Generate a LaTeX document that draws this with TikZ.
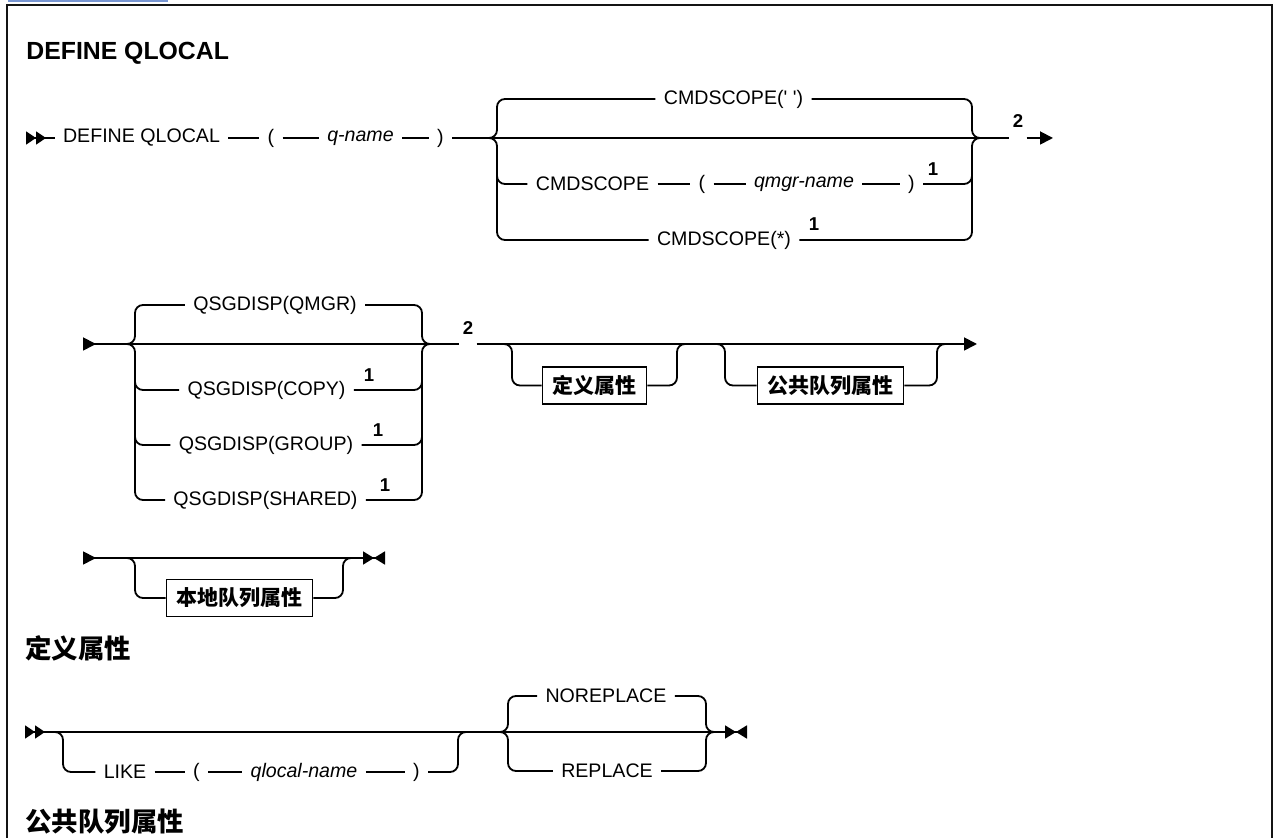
\documentclass[tikz,border=0pt]{standalone}
\usepackage{fontspec}
\setmainfont{Liberation Sans}
\newfontfamily\cjkfont{Noto Sans CJK SC}
\usepackage{tikz}
\usetikzlibrary{arrows.meta}
\usepackage{xcolor}
\definecolor{linkblue}{RGB}{120,150,210}
\definecolor{framegray}{RGB}{20,20,20}

\tikzset{
  rail/.style={line width=0.9pt,rounded corners=4pt},
  begin1/.style={{Triangle[reversed,length=6.5pt,width=6.5pt]}-},
  begin2/.style={{Triangle[reversed,length=5pt,width=6.5pt]Triangle[reversed,length=5pt,width=6.5pt]}-},
  cont/.style={-{Triangle[length=6.5pt,width=6.5pt]}},
  finish/.style={-{Triangle[length=5.5pt,width=6.5pt]Triangle[reversed,length=5.5pt,width=6.5pt]}},
  kw/.style={font=\fontsize{9.8}{11}\selectfont,inner xsep=4pt,inner ysep=2pt},
  var/.style={kw,font=\fontsize{9.8}{11}\selectfont\itshape},
  note/.style={font=\fontsize{9.3}{10}\selectfont\bfseries,inner sep=1.5pt},
  attr/.style={draw,line width=0.8pt,font=\cjkfont\bfseries\fontsize{10.5}{12}\selectfont,inner xsep=5pt,minimum height=18.5pt},
  heading/.style={anchor=west,inner sep=0pt,font=\cjkfont\bfseries\fontsize{13.2}{15}\selectfont},
  title/.style={font=\bfseries\fontsize{12.4}{14}\selectfont,inner sep=0pt},
}

\begin{document}
\begin{tikzpicture}[x=0.5pt,y=-0.5pt]
  \useasboundingbox (0,0) rectangle (1274,838);

  % --- frame ---
  \draw[linkblue,line width=1pt] (8,1.5) -- (168,1.5);
  \draw[framegray,line width=1.2pt] (7,850) |- (1272,5) -- (1272,850);

  % --- title ---
  \node[title,anchor=base west] (title) at (26,60) {DEFINE QLOCAL};

  % --- row 1: DEFINE QLOCAL (q-name) + CMDSCOPE ---
  \coordinate (s1) at (26,138);
  \coordinate (j1l) at (489,138);
  \coordinate (c1l) at (497,138);
  \coordinate (c1r) at (972,138);
  \coordinate (j1r) at (980,138);
  \coordinate (e1) at (1053,138);
  \node[kw] (defq) at (141.5,138) {DEFINE QLOCAL};
  \node[kw] (lp1) at (271,138) {(};
  \node[var] (qname) at (360.5,138) {q-name};
  \node[kw] (rp1) at (440.5,138) {)};
  \node[kw] (scopeblank) at (733.5,99) {CMDSCOPE(\textquotesingle\ \textquotesingle)};
  \node[kw] (scope) at (592.5,184) {CMDSCOPE};
  \node[kw] (lp2) at (702,184) {(};
  \node[var] (qmgr) at (804,184) {qmgr-name};
  \node[kw] (rp2) at (911.5,184) {)};
  \node[note] (n1a) at (933,169) {1};
  \node[kw] (scopeall) at (724,240) {CMDSCOPE(*)};
  \node[note] (n1b) at (814,224) {1};
  \node[note] (n2a) at (1018,121) {2};

  \draw[rail,begin2] (s1) -- (defq);
  \draw[rail] (defq) -- (lp1) (lp1) -- (qname) (qname) -- (rp1);
  \draw[rail] (rp1) -- (n2a.west |- j1r);
  \draw[rail,cont] (n2a.east |- j1r) -- (e1);
  \draw[rail] (j1l) -| (scopeblank.west -| c1l) -- (scopeblank);
  \draw[rail] (scopeblank) -| (c1r) -- (j1r);
  \draw[rail] (j1l) -| (scopeall.west -| c1l) -- (scopeall);
  \draw[rail] (scopeall) -| (c1r) -- (j1r);
  \draw[rail] ([yshift=-10pt]c1l) |- (scope);
  \draw[rail] (scope) -- (lp2) (lp2) -- (qmgr) (qmgr) -- (rp2);
  \draw[rail] (rp2) -| ([yshift=-10pt]c1r);

  % --- row 2: QSGDISP + attribute groups ---
  \coordinate (s2) at (83,344);
  \coordinate (j2l) at (127,344);
  \coordinate (c2l) at (135,344);
  \coordinate (c2r) at (422,344);
  \coordinate (j2r) at (430,344);
  \coordinate (f1a) at (502,344);
  \coordinate (c3l) at (512,344);
  \coordinate (c3r) at (677,344);
  \coordinate (f1b) at (685,344);
  \coordinate (f2a) at (717,344);
  \coordinate (c4l) at (725,344);
  \coordinate (c4r) at (937,344);
  \coordinate (f2b) at (945,344);
  \coordinate (e2) at (977,344);
  \node[kw] (qmgrd) at (275,305) {QSGDISP(QMGR)};
  \node[kw] (copy) at (266.5,390) {QSGDISP(COPY)};
  \node[note] (n1c) at (369,375) {1};
  \node[kw] (group) at (266,445) {QSGDISP(GROUP)};
  \node[note] (n1d) at (378,430) {1};
  \node[kw] (shared) at (265.5,500) {QSGDISP(SHARED)};
  \node[note] (n1e) at (385,485) {1};
  \node[note] (n2b) at (468,328) {2};
  \node[attr] (defattr) at (594.5,385.5) {定义属性};
  \node[attr] (pubattr) at (830.5,385.5) {公共队列属性};

  \draw[rail,begin1] (s2) -- (n2b.west |- s2);
  \draw[rail,cont] (n2b.east |- s2) -- (e2);
  \draw[rail] (j2l) -| (qmgrd.west -| c2l) -- (qmgrd);
  \draw[rail] (qmgrd) -| (c2r) -- (j2r);
  \draw[rail] (j2l) -| (shared.west -| c2l) -- (shared);
  \draw[rail] (shared) -| (c2r) -- (j2r);
  \foreach \n in {copy,group}{
    \draw[rail] ([yshift=-10pt]c2l) |- (\n);
    \draw[rail] (\n) -| ([yshift=-10pt]c2r);
  }
  \draw[rail] (f1a) -| (defattr.west -| c3l) -- (defattr);
  \draw[rail] (defattr) -| (c3r) -- (f1b);
  \draw[rail] (f2a) -| (pubattr.west -| c4l) -- (pubattr);
  \draw[rail] (pubattr) -| (c4r) -- (f2b);

  % --- row 3: local queue attributes ---
  \coordinate (s3) at (83,558);
  \coordinate (f3a) at (127,558);
  \coordinate (c5l) at (135,558);
  \coordinate (c5r) at (343,558);
  \coordinate (f3b) at (353,558);
  \coordinate (e3) at (385,558);
  \node[attr] (locattr) at (239.5,598) {本地队列属性};

  \draw[rail,begin1] (s3) -- (f3a);
  \draw[rail,finish] (f3a) -- (e3);
  \draw[rail] (f3a) -| (locattr.west -| c5l) -- (locattr);
  \draw[rail] (locattr) -| (c5r) -- (f3b);

  % --- define attributes ---
  \node[heading] (hdef) at (25,648) {定义属性};

  \coordinate (s4) at (25,732);
  \coordinate (f4a) at (55,732);
  \coordinate (c6l) at (63,732);
  \coordinate (c6r) at (458,732);
  \coordinate (f4b) at (467,732);
  \coordinate (f5a) at (500,732);
  \coordinate (c7l) at (508,732);
  \coordinate (c7r) at (706,732);
  \coordinate (f5b) at (714,732);
  \coordinate (e4) at (747,732);
  \node[kw] (like) at (125,772) {LIKE};
  \node[kw] (lp3) at (196.5,772) {(};
  \node[var] (qlocal) at (304,772) {qlocal-name};
  \node[kw] (rp3) at (416.5,772) {)};
  \node[kw] (norepl) at (606,696) {NOREPLACE};
  \node[kw] (repl) at (607,771) {REPLACE};

  \draw[rail,begin2] (s4) -- (f4a);
  \draw[rail,finish] (f4a) -- (e4);
  \draw[rail] (f4a) -| (like.west -| c6l) -- (like);
  \draw[rail] (like) -- (lp3) (lp3) -- (qlocal) (qlocal) -- (rp3);
  \draw[rail] (rp3) -| (c6r) -- (f4b);
  \draw[rail] (f5a) -| (norepl.west -| c7l) -- (norepl);
  \draw[rail] (norepl) -| (c7r) -- (f5b);
  \draw[rail] (f5a) -| (repl.west -| c7l) -- (repl);
  \draw[rail] (repl) -| (c7r) -- (f5b);

  % --- common queue attributes ---
  \node[heading] (hpub) at (25,822) {公共队列属性};

\end{tikzpicture}
\end{document}
